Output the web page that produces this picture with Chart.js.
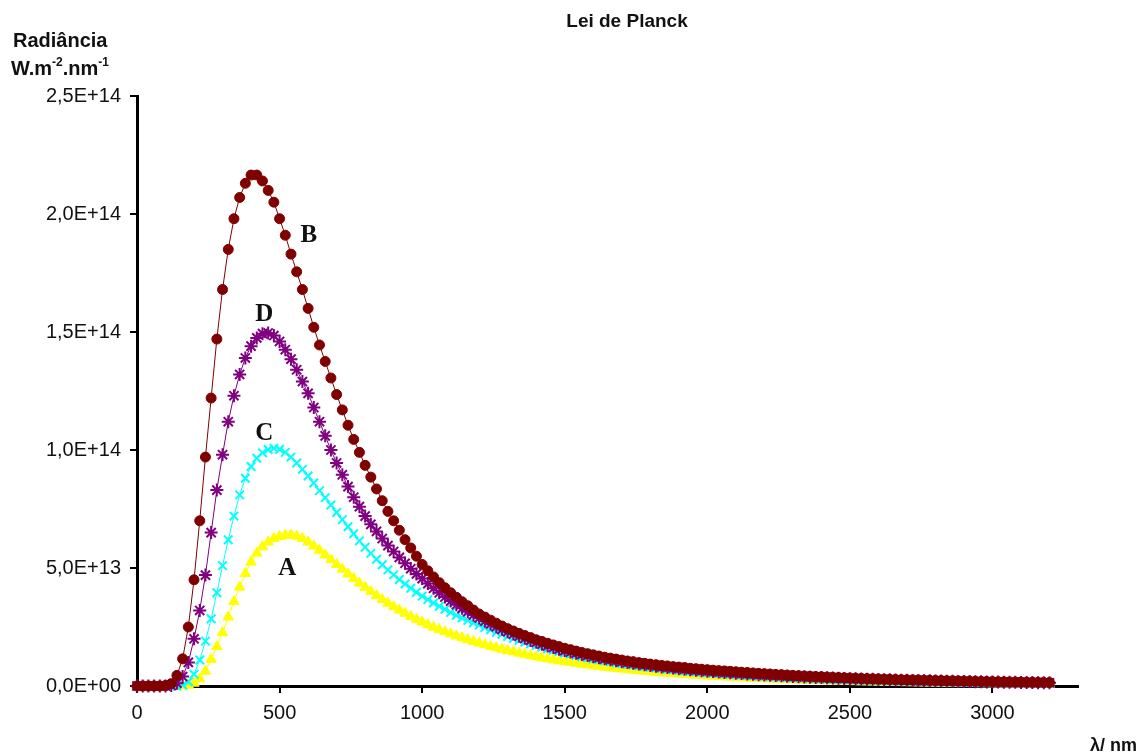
<!DOCTYPE html>
<html>
<head>
<meta charset="utf-8">
<title>Lei de Planck</title>
<script src="https://cdn.jsdelivr.net/npm/chart.js@4.4.1/dist/chart.umd.min.js"></script>
<style>
  html, body { margin: 0; padding: 0; background: #fff; }
  #chart { display: block; }
</style>
</head>
<body>
<canvas id="chart" width="1143" height="755"></canvas>
<script>
// wavelength in nm
const wavelengths = [
  0, 20, 40, 60, 80, 100, 120, 140, 160, 180,
  200, 220, 240, 260, 280, 300, 320, 340, 360, 380,
  400, 420, 440, 460, 480, 500, 520, 540, 560, 580,
  600, 620, 640, 660, 680, 700, 720, 740, 760, 780,
  800, 820, 840, 860, 880, 900, 920, 940, 960, 980,
  1000, 1020, 1040, 1060, 1080, 1100, 1120, 1140, 1160, 1180,
  1200, 1220, 1240, 1260, 1280, 1300, 1320, 1340, 1360, 1380,
  1400, 1420, 1440, 1460, 1480, 1500, 1520, 1540, 1560, 1580,
  1600, 1620, 1640, 1660, 1680, 1700, 1720, 1740, 1760, 1780,
  1800, 1820, 1840, 1860, 1880, 1900, 1920, 1940, 1960, 1980,
  2000, 2020, 2040, 2060, 2080, 2100, 2120, 2140, 2160, 2180,
  2200, 2220, 2240, 2260, 2280, 2300, 2320, 2340, 2360, 2380,
  2400, 2420, 2440, 2460, 2480, 2500, 2520, 2540, 2560, 2580,
  2600, 2620, 2640, 2660, 2680, 2700, 2720, 2740, 2760, 2780,
  2800, 2820, 2840, 2860, 2880, 2900, 2920, 2940, 2960, 2980,
  3000, 3020, 3040, 3060, 3080, 3100, 3120, 3140, 3160, 3180,
  3200
];

// radiance, in units of 1E+12 W.m-2.nm-1
const curveB = [
  0, 0, 0, 0, 0, 0.2, 1, 4.5, 11.5, 25,
  45, 70, 97, 122, 147, 168, 185, 198, 207, 213,
  216.5, 216.5, 214, 210, 205, 198, 191, 183, 175.5, 168,
  160, 152, 144.5, 137.5, 130.5, 123.5, 117, 110.5, 104.5, 99,
  93.5, 88.5, 83.5, 78.5, 74, 70, 66, 62, 58.5, 55,
  51.5, 48.8, 46.2, 43.8, 41.6, 39.5, 37.6, 35.7, 34, 32.2,
  30.5, 29.2, 27.9, 26.6, 25.4, 24.3, 23.3, 22.3, 21.4, 20.5,
  19.6, 18.9, 18.1, 17.4, 16.7, 16, 15.4, 14.8, 14.2, 13.7,
  13.2, 12.7, 12.2, 11.8, 11.4, 11, 10.6, 10.3, 9.9, 9.6,
  9.3, 9, 8.7, 8.5, 8.2, 8, 7.8, 7.5, 7.3, 7.1,
  6.9, 6.7, 6.5, 6.4, 6.2, 6, 5.85, 5.7, 5.5, 5.35,
  5.2, 5.05, 4.9, 4.76, 4.62, 4.49, 4.36, 4.24, 4.12, 4,
  3.89, 3.78, 3.68, 3.58, 3.48, 3.39, 3.3, 3.21, 3.13, 3.05,
  2.97, 2.9, 2.83, 2.76, 2.69, 2.63, 2.57, 2.51, 2.45, 2.4,
  2.35, 2.3, 2.25, 2.2, 2.15, 2.1, 2.05, 2, 1.95, 1.9,
  1.85, 1.81, 1.77, 1.73, 1.69, 1.65, 1.61, 1.57, 1.53, 1.49,
  1.45
];
const curveD = [
  0, 0, 0, 0, 0, 0, 0.2, 1.2, 4, 10,
  20, 32, 47, 65, 83, 98, 112, 123, 132, 139,
  144, 147.5, 149.3, 149.6, 148.5, 146, 142.5, 138.5, 134, 129,
  124, 118, 112, 106, 100, 94.5, 89.5, 84.5, 80, 76,
  72, 68.5, 65.5, 62.5, 59.5, 57, 54.5, 52, 49.7, 47.5,
  45.5, 43.4, 41.4, 39.5, 37.7, 36, 34.4, 32.9, 31.5, 30.1,
  28.8, 27.5, 26.3, 25.1, 24, 23, 22, 21.1, 20.2, 19.3,
  18.5, 17.7, 17, 16.3, 15.6, 15, 14.4, 13.9, 13.4, 12.9,
  12.4, 12, 11.5, 11.1, 10.7, 10.3, 9.95, 9.6, 9.3, 9,
  8.7, 8.4, 8.1, 7.85, 7.6, 7.35, 7.1, 6.9, 6.7, 6.5,
  6.3, 6.1, 5.9, 5.75, 5.6, 5.4, 5.25, 5.1, 4.95, 4.8,
  4.65, 4.55, 4.42, 4.3, 4.18, 4.06, 3.95, 3.85, 3.75, 3.65,
  3.55, 3.46, 3.37, 3.28, 3.19, 3.1, 3.02, 2.95, 2.88, 2.81,
  2.74, 2.67, 2.6, 2.54, 2.48, 2.42, 2.36, 2.3, 2.25, 2.2,
  2.15, 2.1, 2.05, 2, 1.95, 1.9, 1.86, 1.82, 1.78, 1.74,
  1.7, 1.66, 1.62, 1.58, 1.54, 1.5, 1.47, 1.44, 1.41, 1.38,
  1.35
];
const curveC = [
  0, 0, 0, 0, 0, 0, 0, 0, 0.4, 1.8,
  5, 11, 19, 28.5, 39.5, 51, 62, 72, 81, 88,
  93, 96.5, 98.8, 100.2, 100.7, 100.3, 99, 97, 94.5, 91.8,
  89, 86, 82.8, 79.8, 76.7, 73.5, 70.5, 67.5, 64.5, 61.5,
  58.8, 56.2, 53.7, 51.4, 49.2, 47.1, 45.1, 43.2, 41.4, 39.7,
  38.1, 36.6, 35.2, 33.8, 32.5, 31.2, 30, 28.9, 27.8, 26.8,
  25.8, 24.8, 23.8, 22.8, 21.9, 21, 20.2, 19.4, 18.6, 17.9,
  17.2, 16.5, 15.8, 15.2, 14.6, 14, 13.5, 13, 12.5, 12,
  11.5, 11.1, 10.7, 10.3, 9.9, 9.5, 9.2, 8.85, 8.55, 8.25,
  7.95, 7.7, 7.4, 7.15, 6.9, 6.65, 6.45, 6.25, 6.05, 5.85,
  5.65, 5.45, 5.3, 5.1, 4.95, 4.8, 4.65, 4.5, 4.35, 4.2,
  4.1, 3.97, 3.85, 3.74, 3.63, 3.52, 3.42, 3.32, 3.22, 3.13,
  3.04, 2.96, 2.88, 2.8, 2.72, 2.65, 2.58, 2.51, 2.44, 2.38,
  2.32, 2.26, 2.2, 2.14, 2.09, 2.04, 1.99, 1.94, 1.89, 1.84,
  1.8, 1.76, 1.72, 1.68, 1.64, 1.6, 1.56, 1.52, 1.49, 1.46,
  1.43, 1.4, 1.37, 1.34, 1.31, 1.28, 1.25, 1.22, 1.2, 1.17,
  1.15
];
const curveA = [
  0, 0, 0, 0, 0, 0, 0, 0, 0, 0.3,
  1.2, 3, 6.3, 11.3, 16.7, 22.6, 29.2, 35.8, 41.9, 47.7,
  52.5, 56.3, 59, 61, 62.5, 63.4, 63.9, 64, 63.5, 62.5,
  61, 59.3, 57.5, 55.5, 53.5, 51.5, 49.5, 47.5, 45.5, 43.6,
  41.8, 40, 38.3, 36.7, 35.1, 33.6, 32.2, 30.8, 29.5, 28.3,
  27.1, 26, 24.9, 23.9, 23, 22.1, 21.2, 20.4, 19.6, 18.9,
  18.2, 17.5, 16.8, 16.2, 15.6, 15, 14.5, 13.9, 13.4, 12.9,
  12.4, 12, 11.5, 11.1, 10.7, 10.3, 9.95, 9.6, 9.25, 8.9,
  8.6, 8.3, 8, 7.7, 7.45, 7.2, 6.95, 6.7, 6.5, 6.25,
  6.05, 5.85, 5.65, 5.45, 5.25, 5.1, 4.92, 4.75, 4.6, 4.45,
  4.3, 4.15, 4, 3.87, 3.74, 3.62, 3.5, 3.38, 3.27, 3.16,
  3.06, 2.96, 2.86, 2.77, 2.68, 2.6, 2.52, 2.44, 2.36, 2.29,
  2.22, 2.15, 2.08, 2.02, 1.96, 1.9, 1.84, 1.79, 1.74, 1.69,
  1.64, 1.59, 1.55, 1.5, 1.46, 1.42, 1.38, 1.34, 1.31, 1.27,
  1.24, 1.21, 1.18, 1.15, 1.12, 1.09, 1.06, 1.04, 1.01, 0.99,
  0.96, 0.94, 0.92, 0.9, 0.88, 0.86, 0.84, 0.82, 0.8, 0.78,
  0.76
];
const UNIT = 1e12;

const xTicks = [0, 500, 1000, 1500, 2000, 2500, 3000];
const yTicks = [0, 5e13, 1e14, 1.5e14, 2e14, 2.5e14];

// curve letters, placed in data coordinates (nm, radiance)
const curveLabels = [
  { text: 'B', x: 603, y: 1.91e14 },
  { text: 'D', x: 446, y: 1.573e14 },
  { text: 'C', x: 446, y: 1.068e14 },
  { text: 'A', x: 527, y: 4.99e13 }
];

function toPoints(values) {
  return values.map((v, i) => ({ x: wavelengths[i], y: v * UNIT }));
}

// Excel-like "0,0E+00"
function sciComma(v) {
  const s = Number(v).toExponential(1);
  const parts = s.split('e');
  const sign = parts[1][0];
  const digits = parts[1].slice(1).padStart(2, '0');
  return parts[0].replace('.', ',') + 'E' + sign + digits;
}

const textPlugin = {
  id: 'planckText',
  afterDatasetsDraw(chart) {
    const ctx = chart.ctx;
    const xs = chart.scales.x;
    const ys = chart.scales.y;
    ctx.save();
    ctx.fillStyle = '#111';
    ctx.textBaseline = 'alphabetic';

    // title
    ctx.font = 'bold 19px "Liberation Sans", Arial, sans-serif';
    ctx.textAlign = 'center';
    ctx.fillText('Lei de Planck', 627, 27);

    // y axis title
    ctx.textAlign = 'left';
    ctx.font = 'bold 20px "Liberation Sans", Arial, sans-serif';
    ctx.fillText('Radiância', 13, 47);
    let x = 11;
    const base = 75;
    const big = 'bold 20px "Liberation Sans", Arial, sans-serif';
    const small = 'bold 12px "Liberation Sans", Arial, sans-serif';
    const pieces = [['W.m', big, 0], ['-2', small, -9], ['.nm', big, 0], ['-1', small, -9]];
    pieces.forEach(p => {
      ctx.font = p[1];
      ctx.fillText(p[0], x, base + p[2]);
      x += ctx.measureText(p[0]).width;
    });

    // x axis title
    ctx.font = 'bold 18px "Liberation Sans", "DejaVu Sans", sans-serif';
    ctx.fillText('λ/ nm', 1090, 751);

    // curve letters
    ctx.font = 'bold 25px "Liberation Serif", "Times New Roman", serif';
    ctx.textAlign = 'center';
    ctx.textBaseline = 'middle';
    curveLabels.forEach(l => {
      ctx.fillText(l.text, xs.getPixelForValue(l.x), ys.getPixelForValue(l.y));
    });
    ctx.restore();
  }
};

const ctx = document.getElementById('chart').getContext('2d');
new Chart(ctx, {
  type: 'line',
  data: {
    datasets: [
      {
        label: 'B',
        data: toPoints(curveB),
        borderColor: '#800000',
        backgroundColor: '#800000',
        borderWidth: 1,
        pointStyle: 'circle',
        pointRadius: 5,
        pointBorderWidth: 1,
        clip: false
      },
      {
        label: 'D',
        data: toPoints(curveD),
        borderColor: '#800080',
        backgroundColor: '#800080',
        borderWidth: 1,
        pointStyle: 'star',
        pointRadius: 6.5,
        pointBorderWidth: 2,
        clip: false
      },
      {
        label: 'C',
        data: toPoints(curveC),
        borderColor: '#00FFFF',
        backgroundColor: '#00FFFF',
        borderWidth: 1,
        pointStyle: 'crossRot',
        pointRadius: 6,
        pointBorderWidth: 2,
        clip: false
      },
      {
        label: 'A',
        data: toPoints(curveA),
        borderColor: '#FFFF00',
        backgroundColor: '#FFFF00',
        borderWidth: 1,
        pointStyle: 'triangle',
        pointRadius: 6,
        pointBorderWidth: 1,
        clip: false
      }
    ]
  },
  options: {
    responsive: false,
    animation: false,
    layout: { padding: { left: 0, top: 96, right: 65, bottom: 0 } },
    plugins: {
      legend: { display: false },
      tooltip: { enabled: false },
      title: { display: false }
    },
    scales: {
      x: {
        type: 'linear',
        min: 0,
        max: 3300,
        afterFit: s => { s.height = 69; },
        afterBuildTicks: s => { s.ticks = xTicks.map(v => ({ value: v })); },
        ticks: {
          color: '#111',
          padding: 8,
          maxRotation: 0,
          font: { family: '"Liberation Sans", Arial, sans-serif', size: 20 },
          callback: v => String(v)
        },
        grid: { display: true, drawOnChartArea: false, drawTicks: true, tickLength: 7, color: '#000', lineWidth: 2 },
        border: { display: true, color: '#000', width: 3 }
      },
      y: {
        type: 'linear',
        min: 0,
        max: 2.5e14,
        afterFit: s => { s.width = 137; },
        afterBuildTicks: s => { s.ticks = yTicks.map(v => ({ value: v })); },
        ticks: {
          color: '#111',
          padding: 9,
          font: { family: '"Liberation Sans", Arial, sans-serif', size: 20 },
          callback: v => sciComma(v)
        },
        grid: { display: true, drawOnChartArea: false, drawTicks: true, tickLength: 7, color: '#000', lineWidth: 2 },
        border: { display: true, color: '#000', width: 3 }
      }
    }
  },
  plugins: [textPlugin]
});
</script>
</body>
</html>
